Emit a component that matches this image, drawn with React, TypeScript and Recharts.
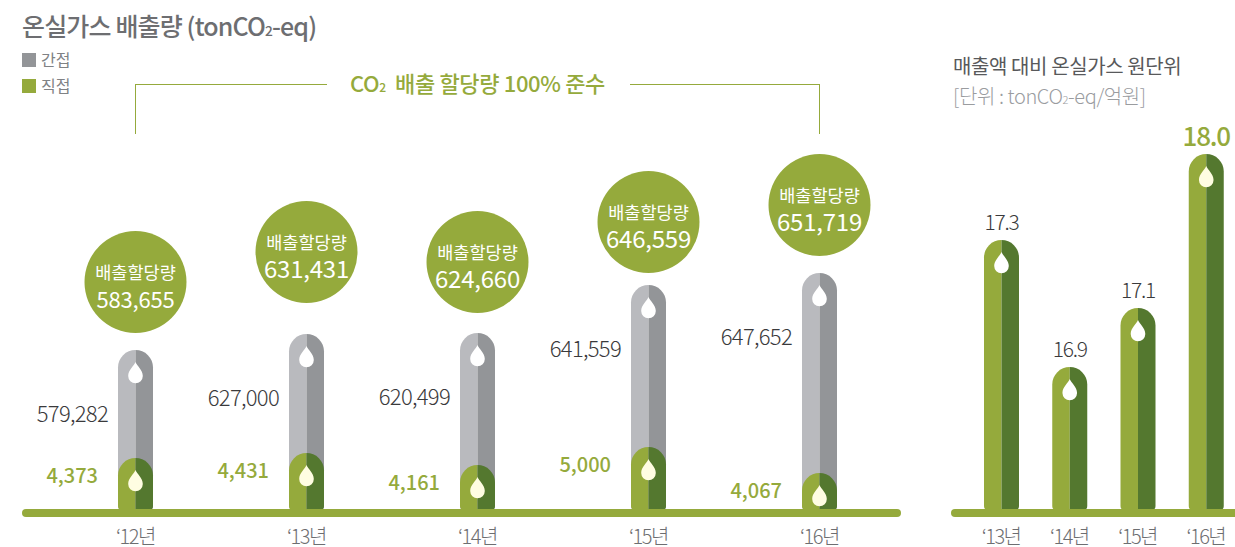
import { Bar, ComposedChart, LabelList, Line, XAxis, YAxis } from "recharts";

const FONT = '"Noto Sans CJK KR", "Noto Sans", sans-serif';
const OLIVE = "#95aa3c";
const OLIVE_DARK = "#54782f";
const GREY_LIGHT = "#b9babe";
const GREY_DARK = "#939598";

const emissionYears = ["‘12년", "‘13년", "‘14년", "‘15년", "‘16년"];
const indirectValues = [579282, 627000, 620499, 641559, 647652];
const directValues = [4373, 4431, 4161, 5000, 4067];
const allocationValues = [583655, 631431, 624660, 646559, 651719];

// the original tubes are not drawn to scale, so the lengths are read off the picture
const indirectLengths = [160, 176, 177, 225, 237];
const directLengths = [52, 57, 45, 63, 37];
const allocationLevels = [228, 258, 248, 288, 305];

const intensityYears = ["‘13년", "‘14년", "‘15년", "‘16년"];
const intensityValues = ["17.3", "16.9", "17.1", "18.0"];
const intensityLengths = [270, 143, 202, 356];

const emissionData = emissionYears.map((year, i) => ({
  year,
  indirect: indirectLengths[i],
  direct: directLengths[i],
  allocation: allocationLevels[i],
}));

const intensityData = intensityYears.map((year, i) => ({
  year,
  length: intensityLengths[i],
}));

function Tube(props: any) {
  const { x, y, width, height, light, dark, drop } = props;
  const r = width / 2;
  const cx = x + r;
  const bottom = y + height;
  const corner = 4;
  const left = `M${cx},${y} A${r},${r} 0 0 0 ${x},${y + r} L${x},${bottom - corner} Q${x},${bottom} ${x + corner},${bottom} L${cx},${bottom} Z`;
  const right = `M${cx},${y} A${r},${r} 0 0 1 ${x + width},${y + r} L${x + width},${bottom - corner} Q${x + width},${bottom} ${x + width - corner},${bottom} L${cx},${bottom} Z`;
  const dropPath = `M${cx},${y + 12} C${cx + 1.5},${y + 16} ${cx + 7.3},${y + 20} ${cx + 7.3},${y + 26} A7.3,7.3 0 1 1 ${cx - 7.3},${y + 26} C${cx - 7.3},${y + 20} ${cx - 1.5},${y + 16} ${cx},${y + 12} Z`;
  return (
    <g>
      <path d={left} fill={light} />
      <path d={right} fill={dark} />
      <path d={dropPath} fill={typeof drop === "function" ? drop(props.index) : drop} />
    </g>
  );
}

function YearTick({ x, y, payload }: any) {
  return (
    <text x={x} y={y + 23} textAnchor="middle" fontFamily={FONT} fontSize={20} fontWeight={300} fill="#6d6e71" letterSpacing={-1.5}>
      {payload.value}
    </text>
  );
}

function IndirectLabel({ x, y, index }: any) {
  return (
    <text x={x - 10} y={y + 72} textAnchor="end" fontFamily={FONT} fontSize={22} fontWeight={300} fill="#3a3a3c" letterSpacing={-0.7}>
      {indirectValues[index].toLocaleString("en-US")}
    </text>
  );
}

function DirectLabel({ x, y, index }: any) {
  return (
    <text x={x - 20} y={y + 25} textAnchor="end" fontFamily={FONT} fontSize={20} fontWeight={500} fill={OLIVE}>
      {directValues[index].toLocaleString("en-US")}
    </text>
  );
}

function AllocationBubble({ cx, cy, index }: any) {
  return (
    <g key={index}>
      <circle cx={cx} cy={cy} r={51} fill={OLIVE} />
      <text x={cx} y={cy - 3} textAnchor="middle" fontFamily={FONT} fontSize={17.5} fontWeight={400} fill="#fff">
        배출할당량
      </text>
      <text x={cx} y={cy + 26} textAnchor="middle" fontFamily={FONT} fontSize={index === 0 ? 22 : 24} fontWeight={400} fill="#fff" letterSpacing={-0.2}>
        {allocationValues[index].toLocaleString("en-US")}
      </text>
    </g>
  );
}

function IntensityLabel({ x, y, width, index }: any) {
  const last = index === intensityValues.length - 1;
  return (
    <text
      x={x + width / 2}
      y={y - (last ? 8 : 10)}
      textAnchor="middle"
      fontFamily={FONT}
      fontSize={last ? 26 : 21}
      fontWeight={last ? 500 : 300}
      fill={last ? OLIVE : "#3a3a3c"}
      letterSpacing={-1.2}
    >
      {intensityValues[index]}
    </text>
  );
}

const Sub = ({ children }: any) => <span style={{ fontSize: "0.55em" }}>{children}</span>;

function Caption({ x, y, size, color, weight = 400, spacing = 0, children }: any) {
  return (
    <div
      style={{
        position: "absolute",
        left: x,
        top: y,
        fontFamily: FONT,
        fontSize: size,
        fontWeight: weight,
        color,
        letterSpacing: spacing,
        lineHeight: 1,
        whiteSpace: "nowrap",
      }}
    >
      {children}
    </div>
  );
}

function Swatch({ y, color }: any) {
  return <div style={{ position: "absolute", left: 22, top: y, width: 14, height: 14, background: color }} />;
}

export default function App() {
  return (
    <div style={{ position: "absolute", left: 0, top: 0, width: 1235, height: 547, overflow: "hidden", background: "#fff" }}>
      <Caption x={22} y={13} size={25} color="#6d6e71" weight={500} spacing={-0.85}>
        온실가스 배출량 (tonCO<Sub>2</Sub>-eq)
      </Caption>
      <Swatch y={53} color={GREY_DARK} />
      <Caption x={41} y={51} size={16} color="#808285">간접</Caption>
      <Swatch y={79} color={OLIVE} />
      <Caption x={41} y={77} size={16} color="#808285">직접</Caption>

      <div style={{ position: "absolute", left: 135, top: 84, width: 191, height: 49, borderLeft: `1px solid ${OLIVE}`, borderTop: `1px solid ${OLIVE}` }} />
      <div style={{ position: "absolute", left: 630, top: 84, width: 189, height: 49, borderRight: `1px solid ${OLIVE}`, borderTop: `1px solid ${OLIVE}` }} />
      <Caption x={350} y={71} size={22} color={OLIVE} weight={500} spacing={-0.35}>
        CO<Sub>2</Sub>&nbsp; 배출 할당량 100% 준수
      </Caption>

      <Caption x={953} y={56} size={20} color="#58595b" spacing={-0.4}>매출액 대비 온실가스 원단위</Caption>
      <Caption x={953} y={86} size={20} color="#9a9c9f" weight={300} spacing={-0.4}>
        [단위 : tonCO<Sub>2</Sub>-eq/억원]
      </Caption>

      <div style={{ position: "absolute", left: 0, top: 0 }}>
        <ComposedChart width={925} height={547} data={emissionData} margin={{ top: 0, right: 28, bottom: 0, left: 26 }} barGap={-35}>
          <XAxis
            dataKey="year"
            height={34}
            padding={{ left: 24, right: -8 }}
            axisLine={{ stroke: OLIVE, strokeWidth: 8, strokeLinecap: "round" }}
            tickLine={false}
            tick={<YearTick />}
            interval={0}
          />
          <YAxis hide domain={[-3, 510]} />
          <Bar
            dataKey="indirect"
            barSize={35}
            isAnimationActive={false}
            shape={(p: any) => <Tube {...p} light={GREY_LIGHT} dark={GREY_DARK} drop="#fff" />}
          >
            <LabelList dataKey="indirect" content={<IndirectLabel />} />
          </Bar>
          <Bar
            dataKey="direct"
            barSize={35}
            isAnimationActive={false}
            shape={(p: any) => <Tube {...p} light={OLIVE} dark={OLIVE_DARK} drop="#fffde2" />}
          >
            <LabelList dataKey="direct" content={<DirectLabel />} />
          </Bar>
          <Line
            dataKey="allocation"
            stroke="none"
            isAnimationActive={false}
            dot={(p: any) => <AllocationBubble {...p} />}
            activeDot={false}
          />
        </ComposedChart>
      </div>

      <div style={{ position: "absolute", left: 930, top: 0 }}>
        <ComposedChart width={330} height={547} data={intensityData} margin={{ top: 0, right: 20, bottom: 0, left: 25 }}>
          <XAxis
            dataKey="year"
            height={34}
            padding={{ left: 12, right: 0 }}
            axisLine={{ stroke: OLIVE, strokeWidth: 8, strokeLinecap: "round" }}
            tickLine={false}
            tick={<YearTick />}
            interval={0}
          />
          <YAxis hide domain={[-3, 510]} />
          <Bar
            dataKey="length"
            barSize={35}
            isAnimationActive={false}
            shape={(p: any) => (
              <Tube {...p} light={OLIVE} dark={OLIVE_DARK} drop={(i: number) => (i === intensityValues.length - 1 ? "#fffde2" : "#fff")} />
            )}
          >
            <LabelList dataKey="length" content={<IntensityLabel />} />
          </Bar>
        </ComposedChart>
      </div>
    </div>
  );
}
